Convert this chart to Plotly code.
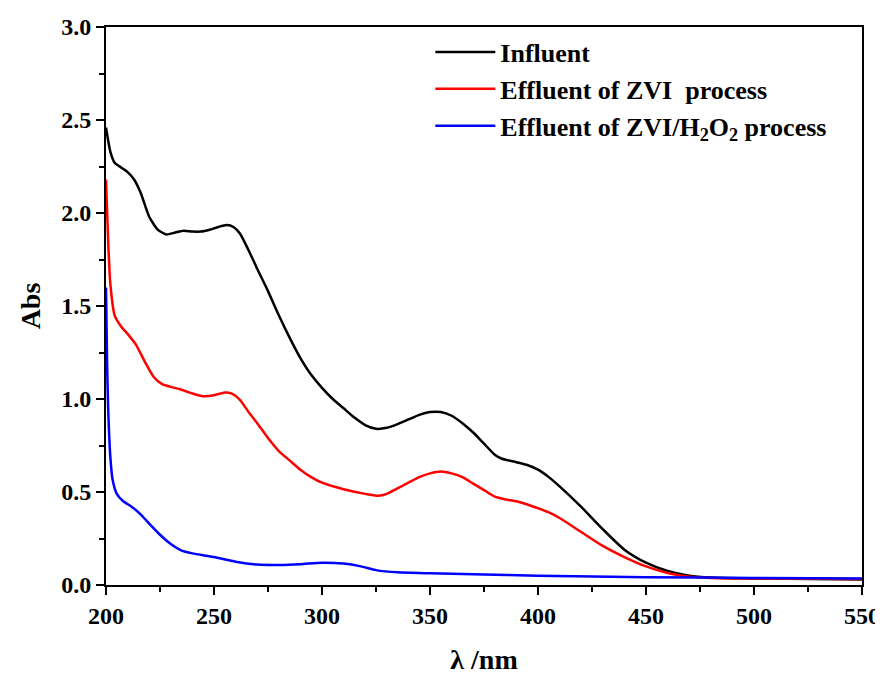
import plotly.graph_objects as go

# Wavelength (nm) and absorbance values
influent_x = [200, 202, 204, 207, 210, 213, 216, 220, 224, 228, 232, 236, 240, 244, 248, 252, 256, 259, 262, 266,
              270, 275, 280, 285, 290, 295, 300, 305, 310, 315, 320, 325, 330, 335, 340, 345, 350, 355, 360, 365,
              370, 375, 380, 383, 390, 395, 400, 405, 410, 420, 430, 440, 450, 460, 470, 480, 500, 550]
influent_y = [2.46, 2.33, 2.27, 2.245, 2.22, 2.18, 2.11, 1.98, 1.91, 1.885, 1.895, 1.905, 1.90, 1.90, 1.91, 1.925,
              1.935, 1.925, 1.89, 1.80, 1.70, 1.58, 1.45, 1.33, 1.22, 1.13, 1.06, 1.00, 0.95, 0.90, 0.86, 0.84,
              0.845, 0.865, 0.89, 0.915, 0.93, 0.93, 0.91, 0.87, 0.82, 0.76, 0.70, 0.68, 0.66, 0.645, 0.62, 0.58,
              0.53, 0.42, 0.30, 0.19, 0.12, 0.075, 0.05, 0.04, 0.035, 0.03]

zvi_x = [200, 201, 202, 204, 207, 210, 214, 218, 222, 226, 230, 235, 240, 245, 250, 255, 258, 262, 266, 270,
         275, 280, 285, 290, 295, 300, 310, 320, 326, 330, 335, 340, 345, 350, 355, 360, 365, 370, 375, 380,
         385, 390, 397, 405, 410, 420, 430, 440, 450, 460, 470, 480, 500, 550]
zvi_y = [2.18, 1.85, 1.62, 1.45, 1.39, 1.35, 1.29, 1.20, 1.12, 1.08, 1.065, 1.05, 1.03, 1.015, 1.02, 1.035, 1.03,
         0.995, 0.93, 0.87, 0.79, 0.72, 0.67, 0.62, 0.58, 0.55, 0.515, 0.49, 0.48, 0.49, 0.52, 0.55, 0.58, 0.60,
         0.61, 0.60, 0.58, 0.545, 0.51, 0.475, 0.46, 0.45, 0.425, 0.39, 0.36, 0.285, 0.21, 0.15, 0.10, 0.065,
         0.045, 0.038, 0.035, 0.032]

h2o2_x = [200, 200.5, 201, 202, 203, 205, 208, 212, 216, 220, 225, 230, 235, 240, 250, 260, 270, 280, 290, 300,
          310, 318, 325, 335, 350, 370, 400, 450, 500, 550]
h2o2_y = [1.6, 1.2, 0.95, 0.69, 0.57, 0.49, 0.45, 0.42, 0.38, 0.33, 0.27, 0.22, 0.185, 0.17, 0.15, 0.125, 0.11,
          0.108, 0.112, 0.12, 0.115, 0.10, 0.08, 0.068, 0.063, 0.058, 0.05, 0.042, 0.038, 0.035]

series_names = ["Influent", "Effluent of ZVI  process", "Effluent of ZVI/H<sub>2</sub>O<sub>2</sub> process"]
series_colors = ["#000000", "#ff0000", "#0000ff"]

x_ticks = [200, 250, 300, 350, 400, 450, 500, 550]
y_ticks = [0.0, 0.5, 1.0, 1.5, 2.0, 2.5, 3.0]

FONT = "Liberation Serif"

fig = go.Figure()
for xs, ys, name, color in zip([influent_x, zvi_x, h2o2_x], [influent_y, zvi_y, h2o2_y], series_names, series_colors):
    fig.add_trace(go.Scatter(x=xs, y=ys, mode="lines", name=name,
                             line=dict(color=color, width=2.5, shape="spline", smoothing=0.6)))

axis_common = dict(showline=True, linecolor="black", linewidth=2, mirror=True, ticks="outside",
                   ticklen=8, tickwidth=2, tickcolor="black", showgrid=False, zeroline=False,
                   automargin=False,
                   tickfont=dict(family=FONT, size=24, color="black", weight="bold"))

fig.update_xaxes(range=[200, 550], tickvals=x_ticks, ticktext=[str(v) for v in x_ticks],
                 minor=dict(ticks="outside", dtick=25, tick0=200, ticklen=5, tickwidth=2, tickcolor="black"),
                 title=dict(text="<b>λ /nm</b>", font=dict(family=FONT, size=28, color="black"), standoff=22),
                 **axis_common)
fig.update_yaxes(range=[0, 3.0], tickvals=y_ticks, ticktext=["%.1f" % v for v in y_ticks],
                 minor=dict(ticks="outside", dtick=0.25, tick0=0, ticklen=5, tickwidth=2, tickcolor="black"),
                 title=dict(text="<b>Abs</b>", font=dict(family=FONT, size=28, color="black"), standoff=12),
                 **axis_common)

# The page body adds an 8 px offset, so the figure is sized to the remaining window
fig.update_layout(
    width=875, height=669,
    margin=dict(l=98, r=21, t=19, b=92),
    plot_bgcolor="white", paper_bgcolor="white",
    font=dict(family=FONT, color="black", size=16),
    legend=dict(x=0.429, y=0.997, xanchor="left", yanchor="top", bgcolor="rgba(0,0,0,0)",
                font=dict(family=FONT, size=26, color="black", weight="bold"), itemwidth=60,
                tracegroupgap=0),
)

fig.write_html("out.html")
